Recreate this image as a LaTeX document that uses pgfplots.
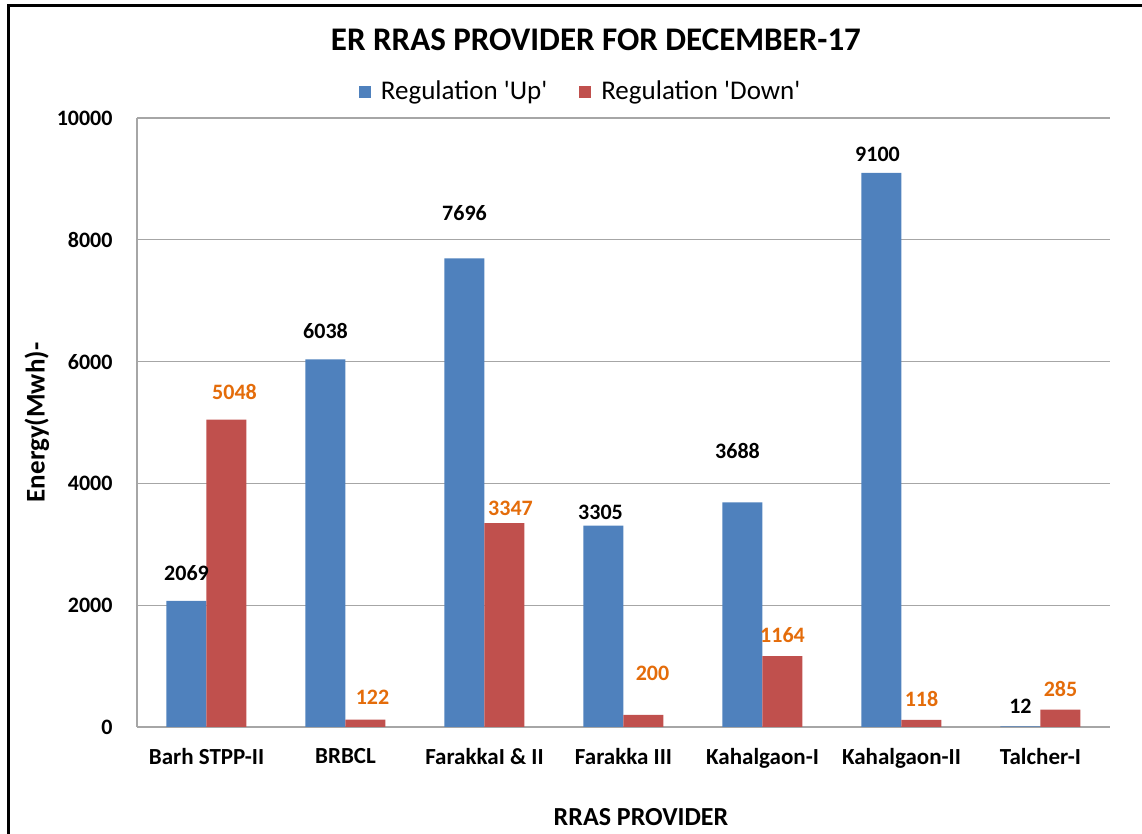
\documentclass[border=0pt]{standalone}
\usepackage{pgfplots}
\pgfplotsset{compat=1.18}
\usepackage{pgfplotstable}
\usepackage{fontspec}
\setmainfont{Carlito}

\definecolor{upblue}{HTML}{4F81BD}
\definecolor{downred}{HTML}{C0504D}
\definecolor{lblorange}{HTML}{E46C0A}
\definecolor{gridgray}{HTML}{A6A6A6}

% label offsets (pt) from the bar top, as placed in the original chart
\pgfplotstableread{
x up   updy updx down dndy dndx
0 2069 14   0    5048 14   4
1 6038 14   0    122  11   3.5
2 7696 22.5 0    3347 7.5  3
3 3305 6.5  -1.5 200  20.5 4.5
4 3688 25.5 -2.5 1164 10.5 0
5 9100 9    -2   118  10.5 0
6 12   10   0    285  10.5 0
}\rras

\begin{document}
\begin{tikzpicture}
\path[use as bounding box] (0,0) rectangle (571pt,417pt);
\draw[line width=1.5pt] (4pt,0) -- (4pt,414pt) -- (571pt,414pt);
\begin{axis}[
    at={(68.5pt,53.5pt)}, anchor=south west,
    scale only axis, width=486.5pt, height=304.5pt,
    ybar=0pt, bar width=20pt,
    xmin=-0.5, xmax=6.5, ymin=0, ymax=10000,
    enlargelimits=false, clip=false,
    xtick=data,
    xticklabels={Barh STPP-II,BRBCL,FarakkaI \& II,Farakka III,Kahalgaon-I,Kahalgaon-II,Talcher-I},
    ytick={0,2000,...,10000},
    scaled y ticks=false,
    major tick length=0pt,
    axis x line*=bottom, axis y line*=left,
    axis line style={gridgray, line width=0.6pt},
    ymajorgrids, major grid style={gridgray, line width=0.6pt},
    /pgf/number format/assume math mode=true,
    /pgf/number format/1000 sep={},
    yticklabel style={font=\bfseries\fontsize{11}{13}\selectfont, xshift=-8.7pt},
    xticklabel style={font=\bfseries\fontsize{11.5}{14}\selectfont, yshift=-7pt},
    title={ER RRAS PROVIDER FOR DECEMBER-17},
    every axis title shift=0pt,
    title style={at={(axis description cs:0.4717,1.128)}, anchor=center, font=\bfseries\fontsize{16.5}{20}\selectfont},
    xlabel={RRAS PROVIDER},
    xlabel style={at={(axis description cs:0.518,-0.148)}, anchor=center, font=\bfseries\fontsize{13}{16}\selectfont},
    ylabel={Energy(Mwh)-},
    ylabel style={at={(axis description cs:-0.1028,0.5)}, anchor=center, font=\bfseries\fontsize{13.5}{16}\selectfont},
    legend style={at={(axis description cs:0.457,1.043)}, anchor=center, draw=none, fill=none,
        legend columns=2, font=\fontsize{13.5}{16}\selectfont,
        /tikz/every even column/.append style={column sep=14pt}},
    legend image code/.code={\fill[#1] (0pt,-3pt) rectangle (6pt,3pt); \path (9pt,0pt);},
]
\addplot[fill=upblue, draw=none, nodes near coords, point meta=y,
    visualization depends on={\thisrow{updy} \as \dy},
    visualization depends on={\thisrow{updx} \as \dx},
    nodes near coords style={anchor=center, yshift=\dy, xshift=\dx,
        font=\bfseries\fontsize{11}{13}\selectfont, text=black}]
    table[x=x, y=up]{\rras};
\addplot[fill=downred, draw=none, nodes near coords, point meta=y,
    visualization depends on={\thisrow{dndy} \as \dy},
    visualization depends on={\thisrow{dndx} \as \dx},
    nodes near coords style={anchor=center, yshift=\dy, xshift=\dx,
        font=\bfseries\fontsize{11}{13}\selectfont, text=lblorange}]
    table[x=x, y=down]{\rras};
\legend{Regulation \textquotesingle Up\textquotesingle, Regulation \textquotesingle Down\textquotesingle}
\end{axis}
\end{tikzpicture}
\end{document}
